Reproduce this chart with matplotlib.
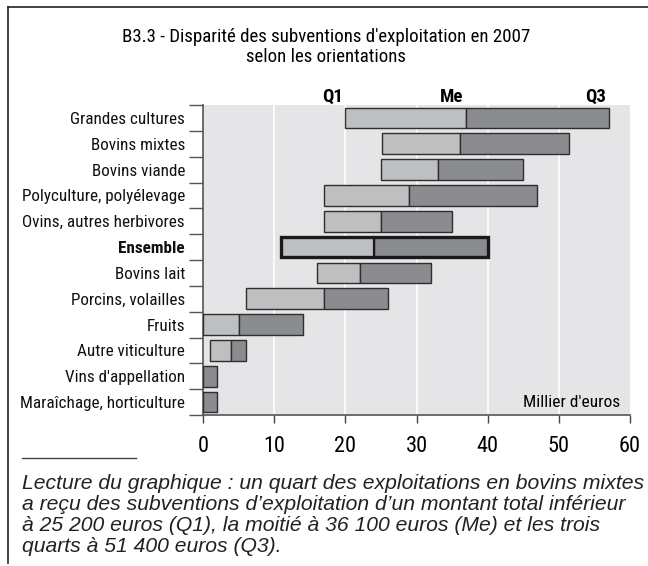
import matplotlib
matplotlib.use("Agg")
import matplotlib.pyplot as plt
from matplotlib import font_manager
from matplotlib.lines import Line2D

# Données (millier d'euros)
categories = [
    "Grandes cultures", "Bovins mixtes", "Bovins viande",
    "Polyculture, polyélevage", "Ovins, autres herbivores", "Ensemble",
    "Bovins lait", "Porcins, volailles", "Fruits", "Autre viticulture",
    "Vins d'appellation", "Maraîchage, horticulture",
]
q1 = [20, 25.2, 25, 17, 17, 11, 16, 6, 0, 1, 0, 0]
me = [37, 36.1, 33, 29, 25, 24, 22, 17, 5, 4, 0, 0]
q3 = [57, 51.4, 45, 47, 35, 40, 32, 26, 14, 6, 2, 2]
x_ticks = [0, 10, 20, 30, 40, 50, 60]

titre = "B3.3 - Disparité des subventions d'exploitation en 2007\nselon les orientations"
note = ("Lecture du graphique : un quart des exploitations en bovins mixtes\n"
        "a reçu des subventions d\u2019exploitation d\u2019un montant total inférieur\n"
        "à 25 200 euros (Q1), la moitié à 36 100 euros (Me) et les trois\n"
        "quarts à 51 400 euros (Q3).")

# police condensée si disponible
condensed = None
for f in font_manager.fontManager.ttflist:
    low = (f.name + " " + f.fname).lower()
    if "narrow" in low or "condensed" in low:
        cand = {"family": f.name, "stretch": "condensed"}
        if "liberation" in low and "narrow" in low:
            condensed = cand
            break
        if condensed is None or "roboto" in low:
            condensed = cand
if condensed is None:
    condensed = {"family": "DejaVu Sans", "stretch": "normal"}
    k = 0.82
else:
    k = 1.0
CF = dict(fontfamily=condensed["family"], fontstretch=condensed["stretch"])

CLAIR = "#bebfc1"
FONCE = "#8b8c8f"
FOND = "#e5e5e7"
BORD = "#2e2e2e"

W, H = 648, 566
fig = plt.figure(figsize=(W / 100, H / 100), dpi=100)
ax = fig.add_axes([203 / W, 1 - 415 / H, 427 / W, 310 / H])
ax.set_facecolor(FOND)

pos = list(range(len(categories)))
for i, cat in enumerate(categories):
    ax.barh(i, me[i] - q1[i], left=q1[i], height=0.8, color=CLAIR,
            edgecolor=BORD, linewidth=1.0, zorder=3)
    ax.barh(i, q3[i] - me[i], left=me[i], height=0.8, color=FONCE,
            edgecolor=BORD, linewidth=1.0, zorder=3)
    if cat == "Ensemble":
        ax.barh(i, q3[i] - q1[i], left=q1[i], height=0.8, fill=False,
                edgecolor="#1a1a1a", linewidth=2.4, zorder=4)
        ax.plot([me[i], me[i]], [i - 0.4, i + 0.4], color="#1a1a1a", lw=1.6, zorder=4)

ax.set_xlim(0, 60)
ax.set_ylim(len(categories) - 0.5, -0.5)
for v in x_ticks[1:-1]:
    ax.axvline(v, color="white", lw=1.2, zorder=1)

ax.set_xticks(x_ticks)
ax.set_xticklabels([str(v) for v in x_ticks], fontsize=16 * k, **CF)
ax.tick_params(axis="x", length=6, width=1, color="#444444", pad=9)

ax.set_yticks(pos)
ax.set_yticklabels(categories, fontsize=12.3 * k, color="#111111", **CF)
for lab in ax.get_yticklabels():
    if lab.get_text() == "Ensemble":
        lab.set_fontweight("bold")
ax.tick_params(axis="y", which="major", length=0, pad=13)
ax.set_yticks([p - 0.5 for p in pos] + [len(pos) - 0.5], minor=True)
ax.tick_params(axis="y", which="minor", length=10, width=1, color="#555555")

for s in ["top", "right"]:
    ax.spines[s].set_visible(False)
for s in ["left", "bottom"]:
    ax.spines[s].set_color("#555555")
    ax.spines[s].set_linewidth(1.2)

# Q1 / Me / Q3 au-dessus du graphique
for lab, v in zip(["Q1", "Me", "Q3"], [q1[0], me[0], q3[0]]):
    ax.annotate(lab, xy=(v, 1), xycoords=("data", "axes fraction"),
                xytext=(-2, 2), textcoords="offset points", ha="right",
                va="baseline", fontweight="bold", fontsize=13.5 * k, **CF)

ax.text(58.6, len(categories) - 1, "Millier d'euros", ha="right", va="center",
        fontsize=12.5 * k, zorder=5, **CF)

fig.text(326 / W, 1 - 47 / H, titre, ha="center", va="center", linespacing=1.15,
         fontsize=13.6 * k, **CF)

fig.text(22 / W, 1 - 474 / H, note, ha="left", va="top", style="italic",
         fontfamily="Liberation Sans", fontsize=15.2, color="#222222", linespacing=1.13)

# cadre et trait de séparation
fig.add_artist(Line2D([8 / W, 1], [1 - 7 / H, 1 - 7 / H], color="#222222", lw=1.2))
fig.add_artist(Line2D([8 / W, 8 / W], [1 - 7 / H, 1 - 563 / H], color="#222222", lw=1.2))
fig.add_artist(Line2D([22 / W, 136 / W], [1 - 458 / H, 1 - 458 / H], color="#444444", lw=1))

fig.savefig("out.png", dpi=100)
